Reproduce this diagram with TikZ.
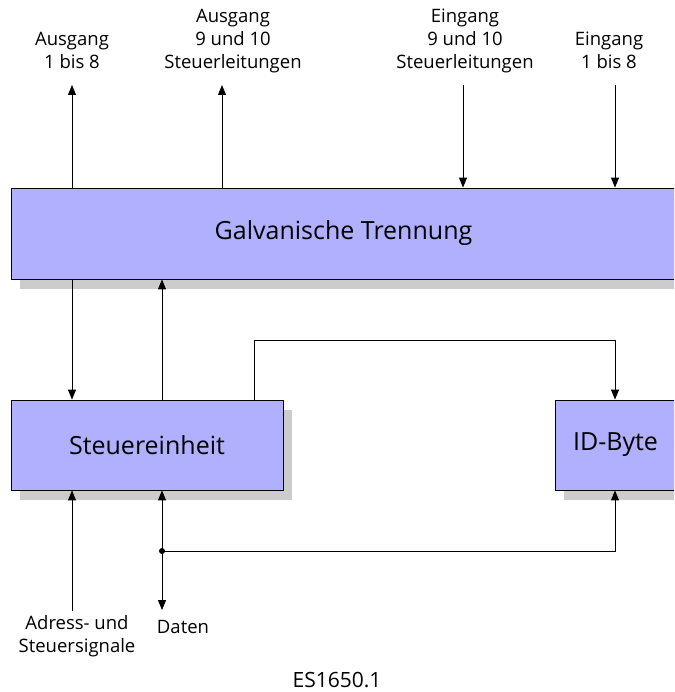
\documentclass[tikz,border=0pt]{standalone}
\usepackage{fontspec}
\setmainfont{Open Sans}
\usetikzlibrary{arrows.meta,shadows}
\definecolor{boxblue}{RGB}{176,176,255}
\definecolor{shadowgray}{RGB}{204,204,204}
\begin{document}
\begin{tikzpicture}[x=1pt,y=-1pt,
  block/.style={draw=black, line width=0.8pt, fill=boxblue, inner sep=0pt,
    font=\fontsize{25}{30}\selectfont,
    general shadow={fill=shadowgray, shadow xshift=9pt, shadow yshift=-10pt}},
  lbl/.style={font=\fontsize{18.5}{23}\selectfont, align=center, inner sep=0pt},
  wire/.style={line width=0.9pt},
  arr/.style={wire, -{Triangle[length=10pt,width=8pt]}}]
\clip (0,0) rectangle (674,692);

% blocks
\node[block, minimum width=665pt, minimum height=91pt] (galv) at (343.5,233.5) {Galvanische Trennung};
\node[block, minimum width=272pt, minimum height=90pt] (steu) at (147,445) {Steuereinheit};
\node[block, minimum width=121pt, minimum height=90pt] (idb) at (615.5,445) {ID-Byte};

% signal labels at the top
\node[lbl, anchor=south] (a18)  at (72,76)  {Ausgang\\1 bis 8\strut};
\node[lbl, anchor=south] (a910) at (233,76) {Ausgang\\9 und 10\\Steuerleitungen\strut};
\node[lbl, anchor=south] (e910) at (465,76) {Eingang\\9 und 10\\Steuerleitungen\strut};
\node[lbl, anchor=south] (e18)  at (609,76) {Eingang\\1 bis 8\strut};

% signal labels at the bottom
\node[lbl] (adrl) at (77,636) {Adress- und\\Steuersignale};
\node[lbl] (datl) at (183,627) {Daten};
\node[font=\fontsize{21}{25}\selectfont, inner sep=0pt] (fig) at (337,680) {ES1650.1};

% line ends and routing points
\coordinate (pA) at (72,85);
\coordinate (pB) at (222,85);
\coordinate (pC) at (463,85);
\coordinate (pD) at (615,85);
\coordinate (xA) at (72,0);
\coordinate (xB) at (162,0);
\coordinate (xC) at (254,340);
\coordinate (xD) at (615,0);
\coordinate (adr) at (72,611);
\coordinate (dat) at (162,610);
\coordinate (dot) at (162,551);

% outputs and inputs of the isolation block
\draw[arr] (galv.north -| pA) -- (pA);
\draw[arr] (galv.north -| pB) -- (pB);
\draw[arr] (pC) -- (galv.north -| pC);
\draw[arr] (pD) -- (galv.north -| pD);

% isolation <-> control unit, control unit -> ID byte
\draw[arr] (galv.south -| xA) -- (steu.north -| xA);
\draw[arr] (steu.north -| xB) -- (galv.south -| xB);
\draw[arr] (steu.north -| xC) -- (xC) -| (idb.north -| xD);

% bus connections
\draw[arr] (adr) -- (steu.south -| adr);
\draw[arr] (dot) -- (steu.south -| dot);
\draw[arr] (dot) -- (dat);
\draw[arr] (dot) -| (idb.south -| xD);
\fill (dot) circle (3pt);
\end{tikzpicture}
\end{document}
